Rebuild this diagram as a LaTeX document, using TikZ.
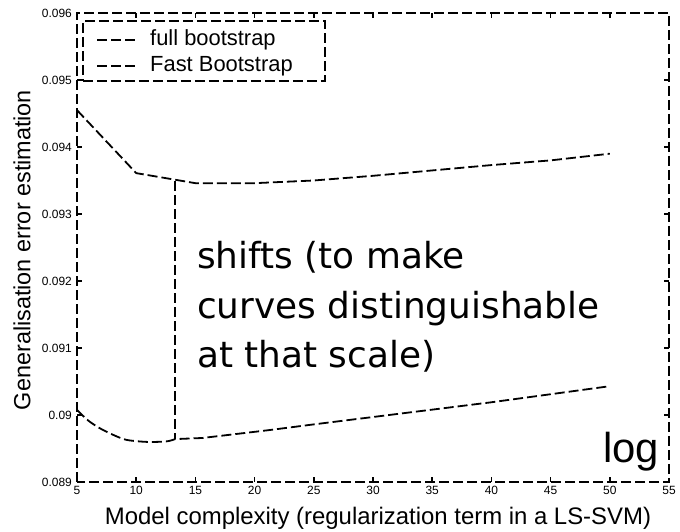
\documentclass[tikz,border=0pt]{standalone}
\usepackage{fontspec}
\setmainfont{Liberation Sans}
\newfontfamily\notefont{DejaVu Sans}
\begin{document}
\begin{tikzpicture}[x=1bp,y=1bp,
  dashline/.style={line width=1.8bp,dash pattern=on 10bp off 4bp,line cap=butt},
  tickline/.style={line width=1.6bp},
  ticklbl/.style={font=\fontsize{12}{14}\selectfont,inner sep=0pt},
  axislbl/.style={font=\fontsize{24}{28}\selectfont,inner sep=0pt},
  legendlbl/.style={font=\fontsize{22}{26}\selectfont,inner sep=0pt,anchor=west},
  note/.style={font=\notefont\fontsize{36}{50}\selectfont,inner sep=0pt,align=left}]
\useasboundingbox (0,0) rectangle (680,532);

% data frame: x from 5 to 55, y from 0.089 to 0.096 (y in units of 0.001 above 0.089)
\begin{scope}[x=11.84bp,y=67bp,shift={(17.8bp,50bp)}]
  \draw[dashline] (5,0) rectangle (55,7);
  % ticks along the bottom and top
  \foreach \t in {10,15,...,50}{
    \draw[tickline] (\t,0) -- ++(0,5bp);
    \draw[tickline] (\t,7) -- ++(0,-5bp);
  }
  % ticks along the left and right
  \foreach \t in {1,...,6}{
    \draw[tickline] (5,\t) -- ++(5bp,0);
    \draw[tickline] (55,\t) -- ++(-5bp,0);
  }
  % tick labels
  \foreach \t in {5,10,...,55}
    \node[ticklbl,anchor=base] (xl\t) at ([yshift=-13bp]\t,0) {\t};
  \foreach \t/\lbl in {0/0.089,1/0.09,2/0.091,3/0.092,4/0.093,5/0.094,6/0.095,7/0.096}
    \node[ticklbl,anchor=east] (yl\t) at ([xshift=-5bp]5,\t) {\lbl};

  % full bootstrap curve
  \draw[dashline] plot coordinates {(5,5.55) (10,4.61) (15,4.46) (20,4.46) (25,4.5)
    (30,4.57) (35,4.65) (40,4.73) (45,4.8) (50,4.9)};
  % fast bootstrap curve (shifted down)
  \draw[dashline] plot[smooth,tension=0.5] coordinates {(5,1.075) (6,0.91) (7.2,0.776)
    (8.9,0.642) (10,0.61) (11.2,0.597) (12.6,0.607) (13.28,0.64)}
    -- plot coordinates {(15.6,0.657) (21.3,0.776) (25,0.86) (30,0.97) (35,1.08)
    (40,1.19) (45,1.31) (50,1.43)};
  % vertical marker showing the shift between the curves
  \coordinate (shiftTop) at (13.28,4.49);
  \coordinate (shiftBot) at (13.28,0.64);
  \draw[dashline] (shiftTop) -- (shiftBot);
\end{scope}

% legend
\node[draw,dashline,minimum width=242bp,minimum height=60bp,inner sep=0pt,anchor=north west]
  (legend) at (82,512) {};
\coordinate (lgA1) at (97,492);
\coordinate (lgA2) at (137,492);
\coordinate (lgB1) at (97,466);
\coordinate (lgB2) at (137,466);
\draw[dashline] (lgA1) -- (lgA2);
\draw[dashline] (lgB1) -- (lgB2);
\node[legendlbl] (lgtextA) at (150,492) {full bootstrap};
\node[legendlbl] (lgtextB) at (150,466) {Fast Bootstrap};

% annotations (base anchor sits on the last line)
\node[note,anchor=base west] (shifts) at (197,164)
  {shifts (to make\\curves distinguishable\\at that scale)};
\node[font=\fontsize{42}{48}\selectfont,inner sep=0pt,anchor=base west] (logtxt) at (603,69) {log};

% axis titles
\node[axislbl,anchor=base] (xtitle) at (378,7)
  {Model complexity (regularization term in a LS-SVM)};
\node[axislbl,rotate=90,font=\fontsize{23.5}{28}\selectfont] (ytitle) at (22,282) {Generalisation error estimation};
\end{tikzpicture}
\end{document}
